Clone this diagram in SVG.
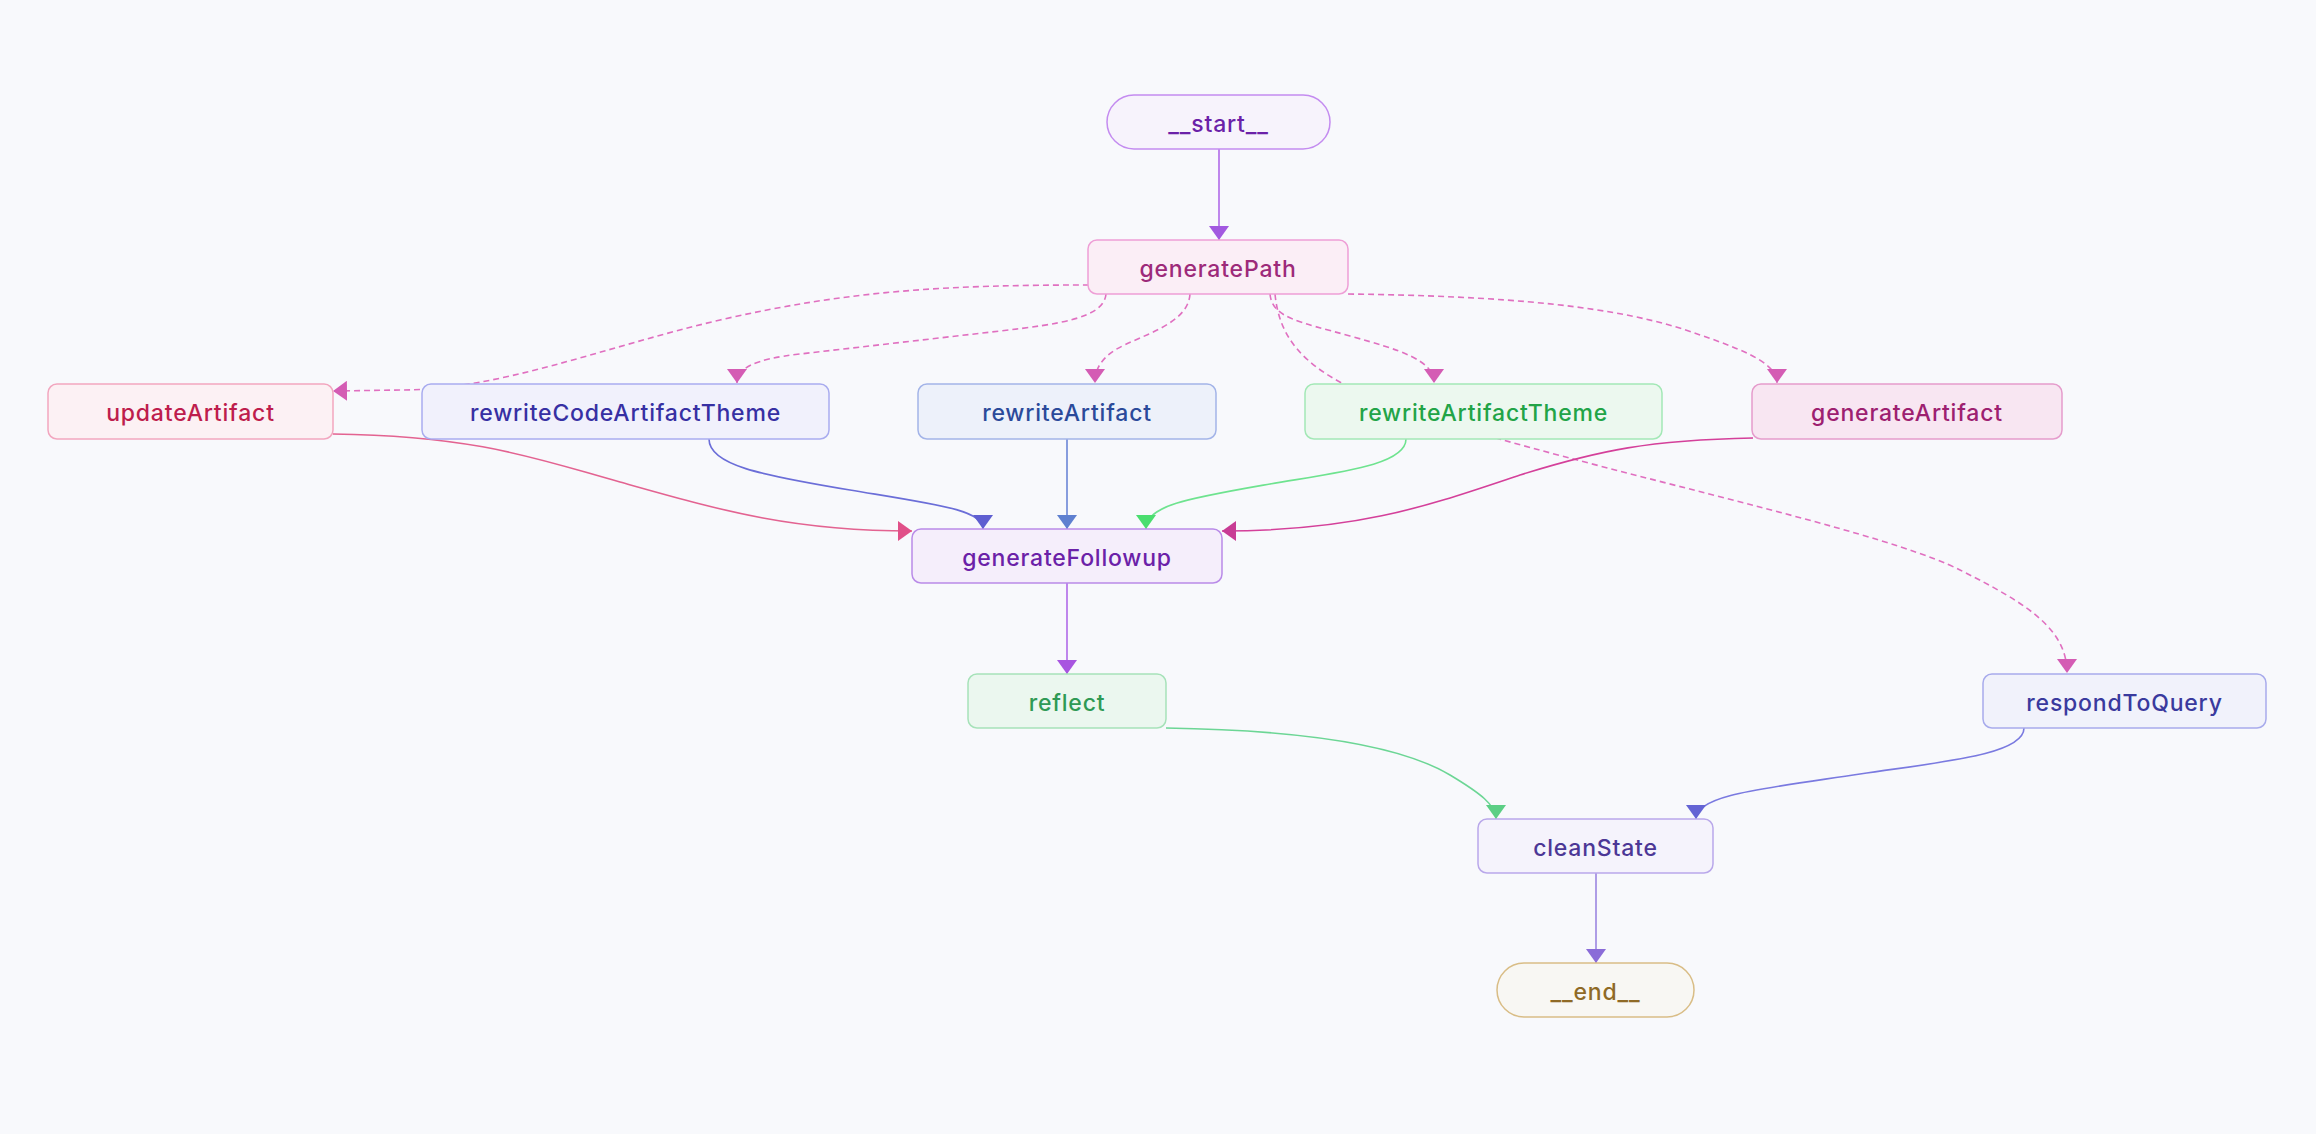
<svg xmlns="http://www.w3.org/2000/svg" width="2316" height="1134" viewBox="0 0 2316 1134">
<style>
.bg{fill:#f8f9fc}
.n{stroke-width:1.5}
.t{font-family:Inter,"Noto Sans",sans-serif;font-size:23px;font-weight:500;letter-spacing:0.8px;text-anchor:middle}
.e{fill:none;stroke-width:1.6}
.d{stroke-dasharray:6 4}
</style>
<defs>
<marker id="a-start" markerUnits="userSpaceOnUse" viewBox="0 0 14 20" refX="14" refY="10" markerWidth="14" markerHeight="20" orient="auto"><path d="M0,0 L14,10 L0,20 z" fill="#a259e0"/></marker>
<marker id="a-pink" markerUnits="userSpaceOnUse" viewBox="0 0 14 20" refX="14" refY="10" markerWidth="14" markerHeight="20" orient="auto"><path d="M0,0 L14,10 L0,20 z" fill="#d45cb4"/></marker>
<marker id="a-rose" markerUnits="userSpaceOnUse" viewBox="0 0 14 20" refX="14" refY="10" markerWidth="14" markerHeight="20" orient="auto"><path d="M0,0 L14,10 L0,20 z" fill="#e05088"/></marker>
<marker id="a-indigo" markerUnits="userSpaceOnUse" viewBox="0 0 14 20" refX="14" refY="10" markerWidth="14" markerHeight="20" orient="auto"><path d="M0,0 L14,10 L0,20 z" fill="#5f5fd1"/></marker>
<marker id="a-blue" markerUnits="userSpaceOnUse" viewBox="0 0 14 20" refX="14" refY="10" markerWidth="14" markerHeight="20" orient="auto"><path d="M0,0 L14,10 L0,20 z" fill="#5f80d0"/></marker>
<marker id="a-green" markerUnits="userSpaceOnUse" viewBox="0 0 14 20" refX="14" refY="10" markerWidth="14" markerHeight="20" orient="auto"><path d="M0,0 L14,10 L0,20 z" fill="#4ade6f"/></marker>
<marker id="a-magenta" markerUnits="userSpaceOnUse" viewBox="0 0 14 20" refX="14" refY="10" markerWidth="14" markerHeight="20" orient="auto"><path d="M0,0 L14,10 L0,20 z" fill="#c83c94"/></marker>
<marker id="a-purple" markerUnits="userSpaceOnUse" viewBox="0 0 14 20" refX="14" refY="10" markerWidth="14" markerHeight="20" orient="auto"><path d="M0,0 L14,10 L0,20 z" fill="#a855e0"/></marker>
<marker id="a-green2" markerUnits="userSpaceOnUse" viewBox="0 0 14 20" refX="14" refY="10" markerWidth="14" markerHeight="20" orient="auto"><path d="M0,0 L14,10 L0,20 z" fill="#5ccf85"/></marker>
<marker id="a-indigo2" markerUnits="userSpaceOnUse" viewBox="0 0 14 20" refX="14" refY="10" markerWidth="14" markerHeight="20" orient="auto"><path d="M0,0 L14,10 L0,20 z" fill="#6464d4"/></marker>
<marker id="a-violet" markerUnits="userSpaceOnUse" viewBox="0 0 14 20" refX="14" refY="10" markerWidth="14" markerHeight="20" orient="auto"><path d="M0,0 L14,10 L0,20 z" fill="#8a6cd8"/></marker>
</defs>
<rect class="bg" x="0" y="0" width="2316" height="1134"/>
<g id="connectors">
<path class="e" stroke="#b06ae8" d="M1219,149 L1219,240" marker-end="url(#a-start)"/>
<path class="e d" stroke="#e070c0" d="M1089,285 C950,285 850,290 720,320 C600,348 500,390 400,390 L333,391" marker-end="url(#a-pink)"/>
<path class="e d" stroke="#e070c0" d="M1106,294 C1104,318 1060,324 1000,331 L800,354 C755,359 737,368 737,383" marker-end="url(#a-pink)"/>
<path class="e d" stroke="#e070c0" d="M1190,294 C1188,325 1140,335 1115,350 C1100,360 1095,370 1095,383" marker-end="url(#a-pink)"/>
<path class="e d" stroke="#e070c0" d="M1270,294 C1272,318 1300,322 1350,336 C1400,350 1434,360 1434,383" marker-end="url(#a-pink)"/>
<path class="e d" stroke="#e070c0" d="M1348,294 C1500,296 1620,305 1700,335 C1760,355 1777,368 1777,383" marker-end="url(#a-pink)"/>
<path class="e d" stroke="#e070c0" d="M1275,294 C1279,335 1300,365 1360,392 C1420,418 1500,440 1600,466 C1750,505 1900,540 1960,570 C2030,605 2067,630 2067,673" marker-end="url(#a-pink)"/>
<path class="e" stroke="#e36391" d="M333,434 C480,436 540,460 620,482 C720,510 790,531 912,531" marker-end="url(#a-rose)"/>
<path class="e" stroke="#6b6ed8" d="M709,439 C709,465 760,475 850,490 C940,505 983,510 983,529" marker-end="url(#a-indigo)"/>
<path class="e" stroke="#6b86d6" d="M1067,439 L1067,529" marker-end="url(#a-blue)"/>
<path class="e" stroke="#6ee38f" d="M1406,439 C1406,465 1340,472 1270,484 C1190,498 1146,505 1146,529" marker-end="url(#a-green)"/>
<path class="e" stroke="#d4409a" d="M1753,438 C1650,440 1600,450 1520,475 C1430,505 1360,531 1222,531" marker-end="url(#a-magenta)"/>
<path class="e" stroke="#b06ae8" d="M1067,583 L1067,674" marker-end="url(#a-purple)"/>
<path class="e" stroke="#6cd695" d="M1166,728 C1300,730 1400,745 1450,775 C1480,793 1496,805 1496,819" marker-end="url(#a-green2)"/>
<path class="e" stroke="#7a7ae0" d="M2024,728 C2024,755 1940,762 1860,774 C1760,789 1696,795 1696,819" marker-end="url(#a-indigo2)"/>
<path class="e" stroke="#9b86e0" d="M1596,873 L1596,963" marker-end="url(#a-violet)"/>
</g>
<g id="start"><rect class="n" x="1107" y="95" width="223" height="54" rx="27" fill="#f7f3fc" stroke="#c48cf0"/><text class="t" x="1218.5" y="131.5" fill="#6b21a8">__start__</text></g>
<g id="generatePath"><rect class="n" x="1088" y="240" width="260" height="54" rx="9" fill="#fbeef6" stroke="#ee9fd6"/><text class="t" x="1218" y="276.5" fill="#9d2a7a">generatePath</text></g>
<g id="updateArtifact"><rect class="n" x="48" y="384" width="285" height="55" rx="9" fill="#fcf1f4" stroke="#f2a6bf"/><text class="t" x="190.5" y="421" fill="#be1d4d">updateArtifact</text></g>
<g id="rewriteCodeArtifactTheme"><rect class="n" x="422" y="384" width="407" height="55" rx="9" fill="#f1f1fc" stroke="#a9acef"/><text class="t" x="625.5" y="421" fill="#3730a3">rewriteCodeArtifactTheme</text></g>
<g id="rewriteArtifact"><rect class="n" x="918" y="384" width="298" height="55" rx="9" fill="#edf1fa" stroke="#a3b4e8"/><text class="t" x="1067" y="421" fill="#2b4a9a">rewriteArtifact</text></g>
<g id="rewriteArtifactTheme"><rect class="n" x="1305" y="384" width="357" height="55" rx="9" fill="#ecf8ef" stroke="#a3e8b6"/><text class="t" x="1483.5" y="421" fill="#22a447">rewriteArtifactTheme</text></g>
<g id="generateArtifact"><rect class="n" x="1752" y="384" width="310" height="55" rx="9" fill="#f8e6f2" stroke="#e59ccc"/><text class="t" x="1907" y="421" fill="#9d2070">generateArtifact</text></g>
<g id="generateFollowup"><rect class="n" x="912" y="529" width="310" height="54" rx="9" fill="#f5eefb" stroke="#b98be8"/><text class="t" x="1067" y="565.5" fill="#6b21a8">generateFollowup</text></g>
<g id="reflect"><rect class="n" x="968" y="674" width="198" height="54" rx="9" fill="#ebf7ef" stroke="#a6e2b9"/><text class="t" x="1067" y="710.5" fill="#2f9a55">reflect</text></g>
<g id="respondToQuery"><rect class="n" x="1983" y="674" width="283" height="54" rx="9" fill="#f1f2fb" stroke="#a8abec"/><text class="t" x="2124.5" y="710.5" fill="#3a3a9e">respondToQuery</text></g>
<g id="cleanState"><rect class="n" x="1478" y="819" width="235" height="54" rx="9" fill="#f5f3fc" stroke="#b9a8ea"/><text class="t" x="1595.5" y="855.5" fill="#4c3796">cleanState</text></g>
<g id="end"><rect class="n" x="1497" y="963" width="197" height="54" rx="27" fill="#f8f7f3" stroke="#d9bd86"/><text class="t" x="1595.5" y="999.5" fill="#8f6a26">__end__</text></g>
</svg>
